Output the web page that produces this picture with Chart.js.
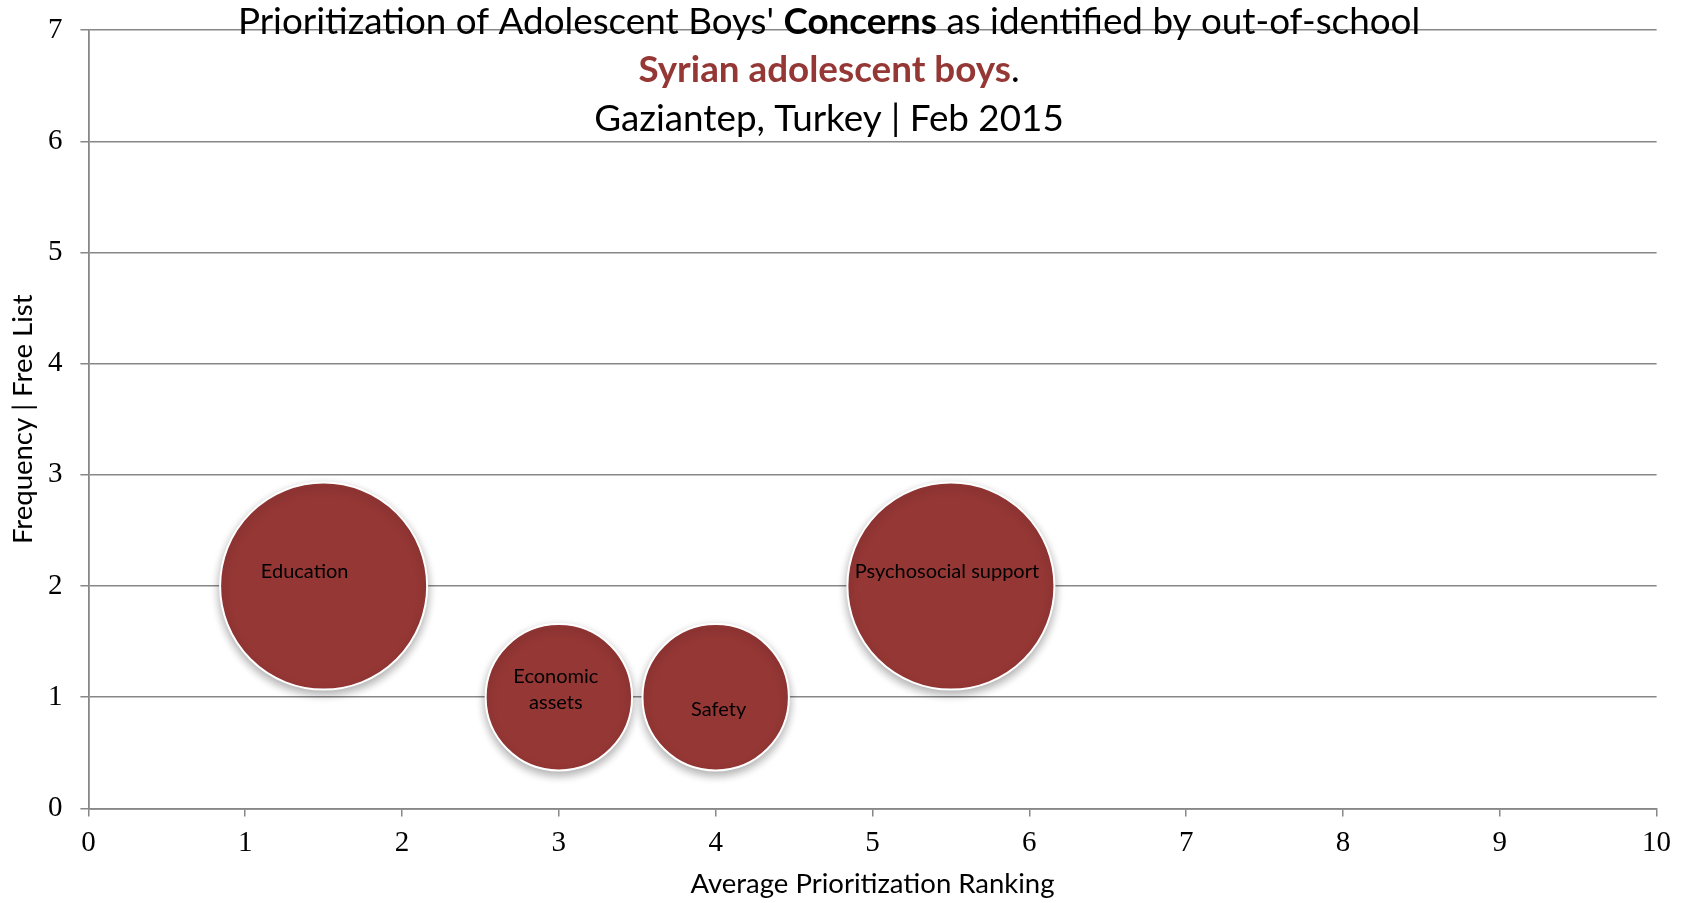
<!DOCTYPE html>
<html>
<head>
<meta charset="utf-8">
<script src="https://cdn.jsdelivr.net/npm/chart.js@4/dist/chart.umd.min.js"></script>
<style>
  html, body { margin: 0; padding: 0; background: #ffffff; }
  #wrap { width: 1690px; height: 903px; position: relative; }
</style>
</head>
<body>
<div id="wrap"><canvas id="chart"></canvas></div>
<script>
// Concerns raised by out-of-school Syrian adolescent boys
const concerns = ['Education', 'Economic assets', 'Safety', 'Psychosocial support'];
const labelLines = [['Education'], ['Economic', 'assets'], ['Safety'], ['Psychosocial support']];
const rankings = [1.5, 3, 4, 5.5];      // average prioritization ranking (x)
const frequencies = [2, 1, 1, 2];       // frequency in free list (y)
const bubbleSizes = [2, 1, 1, 2];       // bubble size value

const xTickValues = [0, 1, 2, 3, 4, 5, 6, 7, 8, 9, 10];
const yTickValues = [0, 1, 2, 3, 4, 5, 6, 7];

const titleLines = [
  [["Prioritization of Adolescent Boys' ", 'normal', '#000000'], ['Concerns', 'bold', '#000000'], [' as identified by out-of-school', 'normal', '#000000']],
  [['Syrian adolescent boys', 'bold', '#953735'], ['.', 'normal', '#000000']],
  [['Gaziantep, Turkey | Feb 2015', 'normal', '#000000']]
];
const xAxisTitle = 'Average Prioritization Ranking';
const yAxisTitle = 'Frequency | Free List';

// ---- styling ----
const SANS = 'Lato, "Open Sans", sans-serif';
const SERIF = '"Liberation Serif", "DejaVu Serif", serif';
const GRID = '#878787';
const BUBBLE_FILL = '#953735';
const BUBBLE_UNIT_RADIUS = 73.2;   // pixel radius of a size-1 bubble (area scales with size)
const labelStyle = {
  font: '20px ' + SANS,
  lineHeight: 25.8,
  offsets: [[-19, -15], [-3, -7.5], [3, 12], [-4, -15]]
};
const titleStyle = { size: 36.8, centerX: 829, baselines: [33.5, 82, 130.5] };

const points = rankings.map((x, i) => ({ x: x, y: frequencies[i], size: bubbleSizes[i] }));

const bubbleShadow = {
  id: 'bubbleShadow',
  beforeDatasetsDraw(chart) {
    const ctx = chart.ctx;
    ctx.save();
    ctx.shadowColor = 'rgba(0,0,0,0.32)';
    ctx.shadowBlur = 10;
    ctx.shadowOffsetX = 0;
    ctx.shadowOffsetY = 4;
  },
  afterDatasetsDraw(chart) {
    chart.ctx.restore();
  }
};

const bubbleLabels = {
  id: 'bubbleLabels',
  afterDatasetsDraw(chart) {
    const ctx = chart.ctx;
    const meta = chart.getDatasetMeta(0);
    ctx.save();
    ctx.font = labelStyle.font;
    ctx.fillStyle = '#000000';
    ctx.textAlign = 'center';
    ctx.textBaseline = 'middle';
    meta.data.forEach((el, i) => {
      const lines = labelLines[i];
      const [dx, dy] = labelStyle.offsets[i];
      const startY = el.y + dy - (lines.length - 1) * labelStyle.lineHeight / 2;
      lines.forEach((line, j) => {
        ctx.fillText(line, el.x + dx, startY + j * labelStyle.lineHeight);
      });
    });
    ctx.restore();
  }
};

const richTitle = {
  id: 'richTitle',
  afterDraw(chart) {
    const ctx = chart.ctx;
    ctx.save();
    ctx.textBaseline = 'alphabetic';
    ctx.textAlign = 'left';
    titleLines.forEach((segs, li) => {
      let total = 0;
      const widths = segs.map(([t, w]) => {
        ctx.font = w + ' ' + titleStyle.size + 'px ' + SANS;
        const m = ctx.measureText(t).width;
        total += m;
        return m;
      });
      let x = titleStyle.centerX - total / 2;
      segs.forEach(([t, w, c], k) => {
        ctx.font = w + ' ' + titleStyle.size + 'px ' + SANS;
        ctx.fillStyle = c;
        ctx.fillText(t, x, titleStyle.baselines[li]);
        x += widths[k];
      });
    });
    ctx.restore();
  }
};

new Chart(document.getElementById('chart'), {
  type: 'bubble',
  data: {
    datasets: [{
      label: 'Concerns',
      data: points,
      backgroundColor: BUBBLE_FILL,
      borderColor: '#ffffff',
      borderWidth: 2,
      radius: (c) => {
        const p = c.raw;
        return p ? BUBBLE_UNIT_RADIUS * Math.sqrt(p.size) : 0;
      }
    }]
  },
  options: {
    responsive: true,
    maintainAspectRatio: false,
    animation: false,
    events: [],
    layout: { autoPadding: false, padding: { top: 30.2, right: 33.4, left: 0, bottom: 0 } },
    plugins: {
      legend: { display: false },
      title: { display: false },
      tooltip: { enabled: false }
    },
    scales: {
      x: {
        type: 'linear',
        min: xTickValues[0],
        max: xTickValues[xTickValues.length - 1],
        afterFit(scale) {
          scale.height = 94.6;
          scale.paddingLeft = 0;
          scale.paddingRight = 0;
        },
        afterBuildTicks(scale) { scale.ticks = xTickValues.map(v => ({ value: v })); },
        grid: { drawOnChartArea: false, drawTicks: true, tickLength: 8, color: GRID, lineWidth: 1.5 },
        border: { color: GRID, width: 1.8 },
        ticks: { color: '#000000', font: { family: SERIF, size: 29 }, padding: 10, maxRotation: 0 },
        title: {
          display: true, text: xAxisTitle, color: '#000000',
          font: { family: SANS, size: 27.5 }, padding: { top: 0, bottom: 2 }
        }
      },
      y: {
        type: 'linear',
        min: yTickValues[0],
        max: yTickValues[yTickValues.length - 1],
        afterFit(scale) {
          scale.width = 88.4;
          scale.paddingTop = 0;
          scale.paddingBottom = 0;
        },
        afterBuildTicks(scale) { scale.ticks = yTickValues.map(v => ({ value: v })); },
        grid: { drawTicks: true, tickLength: 8, color: GRID, lineWidth: 1.5 },
        border: { color: GRID, width: 1.8 },
        ticks: { color: '#000000', font: { family: SERIF, size: 29 }, padding: 18 },
        title: {
          display: true, text: yAxisTitle, color: '#000000',
          font: { family: SANS, size: 27.5 }, padding: { top: 7, bottom: 0 }
        }
      }
    }
  },
  plugins: [bubbleShadow, bubbleLabels, richTitle]
});
</script>
</body>
</html>
